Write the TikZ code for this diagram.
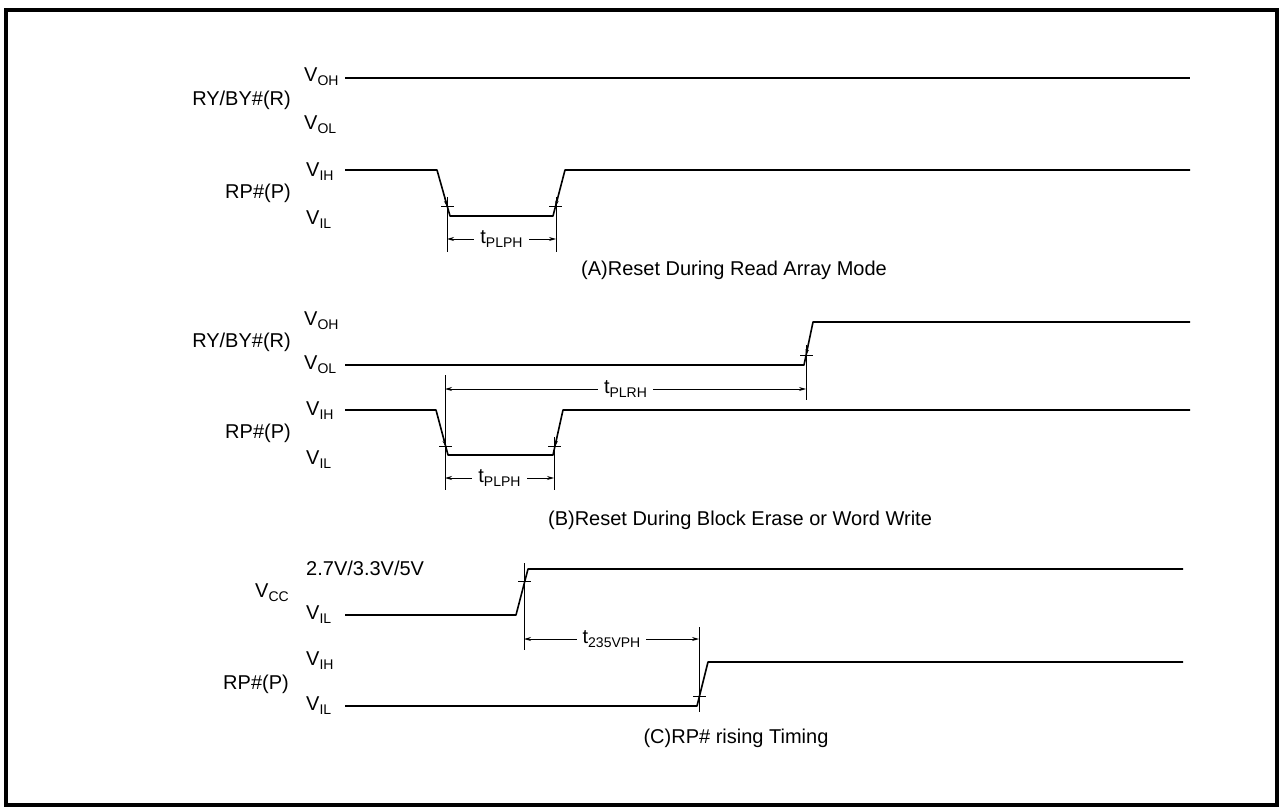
\documentclass[tikz,border=0pt]{standalone}
\usepackage{fontspec}
\setmainfont{Liberation Sans}
\usetikzlibrary{arrows.meta}

\newcommand{\vsub}[2]{#1\raisebox{-0.4ex}{\fontsize{14}{14}\selectfont #2}}

\begin{document}
\begin{tikzpicture}[x=1pt,y=-1pt,
      every node/.style={font=\fontsize{20}{24}\selectfont,inner sep=1pt},
      wave/.style={line width=1.6pt,line join=round},
      dim/.style={line width=0.9pt},
      edgetip/.style={line width=0.9pt,-{Stealth[length=6pt,width=3.5pt]}},
      dimarrow/.style={line width=0.9pt,{Stealth[length=7pt,width=4pt]}-{Stealth[length=7pt,width=4pt]}},
      tlabel/.style={fill=white,inner xsep=6pt}]
      \useasboundingbox (0,0) rectangle (1279,810);
      \draw[line width=3.5pt] (6,10) rectangle (1277,805);

      % (A) reset during read array mode
      \node[anchor=east] (aR) at (292,100) {RY/BY\#(R)};
      \node[anchor=west] (aOH) at (303,77) {\vsub{V}{OH}};
      \node[anchor=west] (aOL) at (303,125) {\vsub{V}{OL}};
      \node[anchor=east] (aP) at (292,193) {RP\#(P)};
      \node[anchor=west] (aIH) at (305,172) {\vsub{V}{IH}};
      \node[anchor=west] (aIL) at (305,220) {\vsub{V}{IL}};
      \draw[wave] (345,78) -- (1190,78);
      \draw[wave] (345,170) -- (437,170) -- (450,216) -- (553,216) -- (565,170) -- (1190,170);
      \draw[dim] (441,206) -- (454,206);
      \draw[dim] (549,206) -- (562,206);
      \draw[edgetip] (444.8,198) -- (447.2,206.5);
      \draw[edgetip] (557.6,198) -- (555.6,206.5);
      \coordinate (a1t) at (447,197);
      \coordinate (a1b) at (447,252);
      \coordinate (a2t) at (556,197);
      \coordinate (a2b) at (556,252);
      \draw[dim] (a1t) -- (a1b);
      \draw[dim] (a2t) -- (a2b);
      \coordinate (a1) at (447,239);
      \coordinate (a2) at (556,239);
      \draw[dimarrow] (a1) -- (a2) node[midway,tlabel] (aT) {\vsub{t}{PLPH}};
      \node (aCap) at (734,270) {(A)Reset During Read Array Mode};

      % (B) reset during block erase or word write
      \node[anchor=east] (bR) at (292,342) {RY/BY\#(R)};
      \node[anchor=west] (bOH) at (303,321) {\vsub{V}{OH}};
      \node[anchor=west] (bOL) at (303,365) {\vsub{V}{OL}};
      \node[anchor=east] (bP) at (292,433) {RP\#(P)};
      \node[anchor=west] (bIH) at (305,411) {\vsub{V}{IH}};
      \node[anchor=west] (bIL) at (305,460) {\vsub{V}{IL}};
      \draw[wave] (345,365) -- (804,365) -- (813,322) -- (1190,322);
      \draw[wave] (345,410) -- (436,410) -- (448,455) -- (553,455) -- (563,410) -- (1190,410);
      \draw[dim] (800,355) -- (813,355);
      \draw[dim] (439,446) -- (452,446);
      \draw[dim] (548,446) -- (561,446);
      \draw[edgetip] (807.7,347) -- (806,355.5);
      \draw[edgetip] (443.6,438) -- (445.6,446.5);
      \draw[edgetip] (556.8,438) -- (555,446.5);
      \coordinate (b1t) at (445,375);
      \coordinate (b1b) at (445,490);
      \coordinate (b2t) at (554,437);
      \coordinate (b2b) at (554,490);
      \coordinate (b3t) at (806,345);
      \coordinate (b3b) at (806,400);
      \draw[dim] (b1t) -- (b1b);
      \draw[dim] (b2t) -- (b2b);
      \draw[dim] (b3t) -- (b3b);
      \coordinate (b1r) at (445,389);
      \coordinate (b3r) at (806,389);
      \draw[dimarrow] (b1r) -- (b3r) node[midway,tlabel] (bTr) {\vsub{t}{PLRH}};
      \coordinate (b1p) at (445,478);
      \coordinate (b2p) at (554,478);
      \draw[dimarrow] (b1p) -- (b2p) node[midway,tlabel] (bTp) {\vsub{t}{PLPH}};
      \node (bCap) at (740,520) {(B)Reset During Block Erase or Word Write};

      % (C) RP# rising timing
      \node[anchor=west] (cV) at (305,568) {2.7V/3.3V/5V};
      \node[anchor=east] (cCC) at (290,593) {\vsub{V}{CC}};
      \node[anchor=west] (cIL1) at (305,615) {\vsub{V}{IL}};
      \node[anchor=west] (cIH) at (305,661) {\vsub{V}{IH}};
      \node[anchor=east] (cP) at (290,684) {RP\#(P)};
      \node[anchor=west] (cIL2) at (305,706) {\vsub{V}{IL}};
      \draw[wave] (345,615) -- (516,615) -- (528,569) -- (1183,569);
      \draw[wave] (345,706) -- (697,706) -- (708,662) -- (1183,662);
      \draw[dim] (518,581) -- (531,581);
      \draw[dim] (693,696) -- (706,696);
      \coordinate (c1t) at (524,563);
      \coordinate (c1b) at (524,650);
      \coordinate (c2t) at (699,627);
      \coordinate (c2b) at (699,712);
      \draw[dim] (c1t) -- (c1b);
      \draw[dim] (c2t) -- (c2b);
      \coordinate (c1) at (524,639);
      \coordinate (c2) at (699,639);
      \draw[dimarrow] (c1) -- (c2) node[midway,tlabel] (cT) {\vsub{t}{235VPH}};
      \node (cCap) at (736,738) {(C)RP\# rising Timing};
\end{tikzpicture}
\end{document}
